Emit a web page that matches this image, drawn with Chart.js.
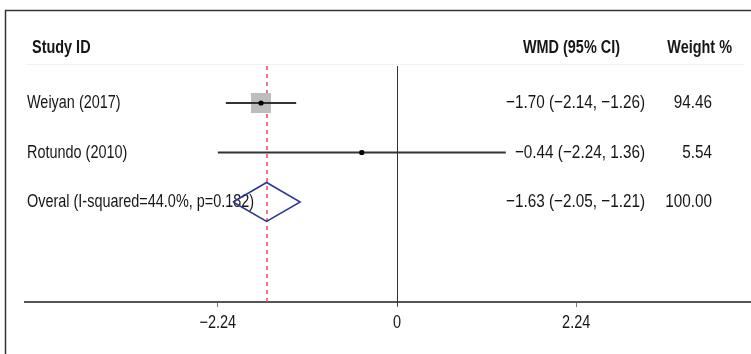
<!DOCTYPE html>
<html>
<head>
<meta charset="utf-8">
<script src="https://cdn.jsdelivr.net/npm/chart.js@4/dist/chart.umd.min.js"></script>
<style>
  html, body { margin: 0; padding: 0; background: #ffffff; }
  #wrap { width: 751px; height: 354px; }
</style>
</head>
<body>
<div id="wrap"><canvas id="forest" width="751" height="354"></canvas></div>
<script>
// Study rows of the forest plot
const studies = ['Weiyan (2017)', 'Rotundo (2010)'];
const estimates = [-1.70, -0.44];
const lowers = [-2.14, -2.24];
const uppers = [-1.26, 1.36];
const weights = [94.46, 5.54];

// Pooled estimate
const overallLabel = 'Overal (I-squared=44.0%, p=0.182)';
const overallEstimate = -1.63;
const overallLower = -2.05;
const overallUpper = -1.21;
const overallWeight = 100.00;

// Axis ticks
const tickValues = [-2.24, 0, 2.24];
const tickLabels = ['\u22122.24', '0', '2.24'];

const headers = { study: 'Study ID', effect: 'WMD (95% CI)', weight: 'Weight %' };

const FONT = '"Liberation Sans", Arial, sans-serif';
const TEXT = '#161616';
const NARROW_LABEL = 0.76;  // condensed look for text
const NARROW_NUM = 0.805;   // condensed look for figures

function fmt(v) {
  return (v < 0 ? '\u2212' : '') + Math.abs(v).toFixed(2);
}
function ciText(e, lo, hi) {
  return fmt(e) + ' (' + fmt(lo) + ', ' + fmt(hi) + ')';
}

// Draws horizontally condensed text
function drawText(ctx, text, x, y, align, font, squeeze) {
  ctx.save();
  ctx.font = font;
  const w = ctx.measureText(text).width * squeeze;
  const left = align === 'right' ? x - w : align === 'center' ? x - w / 2 : x;
  ctx.translate(left, y);
  ctx.scale(squeeze, 1);
  ctx.textAlign = 'left';
  ctx.textBaseline = 'middle';
  ctx.fillStyle = TEXT;
  ctx.fillText(text, 0, 0);
  ctx.restore();
}

const overallRow = studies.length;
const maxWeight = Math.max(...weights);
const diamondHalf = 0.394;

const datasets = [];
// confidence interval whiskers
studies.forEach((s, i) => {
  datasets.push({
    type: 'scatter', showLine: true,
    data: [{ x: lowers[i], y: i }, { x: uppers[i], y: i }],
    borderColor: '#333333', borderWidth: 2, pointRadius: 0, order: 3
  });
});
// weight boxes
datasets.push({
  type: 'scatter',
  data: studies.map((s, i) => ({ x: estimates[i], y: i })),
  pointStyle: 'rect',
  pointRadius: weights.map(w => 14.14 * Math.sqrt(w / maxWeight)),
  backgroundColor: '#bdbdbd', borderWidth: 0, order: 4
});
// point estimates
datasets.push({
  type: 'scatter',
  data: studies.map((s, i) => ({ x: estimates[i], y: i })),
  pointStyle: 'circle', pointRadius: 2.6,
  backgroundColor: '#000000', borderWidth: 0, order: 1
});
// pooled diamond
datasets.push({
  type: 'scatter', showLine: true,
  data: [
    { x: overallLower, y: overallRow },
    { x: overallEstimate, y: overallRow - diamondHalf },
    { x: overallUpper, y: overallRow },
    { x: overallEstimate, y: overallRow + diamondHalf },
    { x: overallLower, y: overallRow }
  ],
  borderColor: '#2c3791', borderWidth: 1.5, pointRadius: 0, tension: 0, order: 2
});

const forestDecor = {
  id: 'forestDecor',
  beforeDatasetsDraw(chart) {
    const { ctx, chartArea, scales } = chart;
    const xs = scales.x, ys = scales.y;
    ctx.save();
    // header separator
    ctx.strokeStyle = '#f1f1f1';
    ctx.lineWidth = 1;
    ctx.beginPath();
    ctx.moveTo(26, chartArea.top - 1.5);
    ctx.lineTo(745, chartArea.top - 1.5);
    ctx.stroke();

    // line of no effect
    const x0 = Math.round(xs.getPixelForValue(0)) + 0.5;
    ctx.strokeStyle = '#333333';
    ctx.lineWidth = 1;
    ctx.beginPath();
    ctx.moveTo(x0, chartArea.top);
    ctx.lineTo(x0, chartArea.bottom + 4);
    ctx.stroke();

    // pooled estimate reference
    const xr = Math.round(xs.getPixelForValue(overallEstimate));
    ctx.strokeStyle = '#e54b5c';
    ctx.lineWidth = 1.5;
    ctx.setLineDash([4, 4]);
    ctx.beginPath();
    ctx.moveTo(xr, chartArea.top);
    ctx.lineTo(xr, chartArea.bottom);
    ctx.stroke();
    ctx.setLineDash([]);
    ctx.restore();

    // headers
    const bold = 'bold 19px ' + FONT;
    drawText(ctx, headers.study, 32, 48, 'left', bold, NARROW_LABEL);
    drawText(ctx, headers.effect, 620, 48, 'right', bold, NARROW_LABEL);
    drawText(ctx, headers.weight, 732, 48, 'right', bold, NARROW_LABEL);

    // rows
    const reg = '19px ' + FONT;
    studies.forEach((s, i) => {
      const y = ys.getPixelForValue(i);
      drawText(ctx, s, 27, y, 'left', reg, NARROW_LABEL);
      drawText(ctx, ciText(estimates[i], lowers[i], uppers[i]), 645, y, 'right', reg, NARROW_NUM);
      drawText(ctx, weights[i].toFixed(2), 712, y, 'right', reg, NARROW_NUM);
    });
    const yo = ys.getPixelForValue(overallRow);
    drawText(ctx, overallLabel, 27, yo, 'left', reg, NARROW_LABEL);
    drawText(ctx, ciText(overallEstimate, overallLower, overallUpper), 645, yo, 'right', reg, NARROW_NUM);
    drawText(ctx, overallWeight.toFixed(2), 712, yo, 'right', reg, NARROW_NUM);
  },
  afterDraw(chart) {
    const { ctx, chartArea, scales } = chart;
    // tick labels placed by the x scale
    scales.x.ticks.forEach((t) => {
      const label = tickLabels[tickValues.indexOf(t.value)];
      drawText(ctx, label, scales.x.getPixelForValue(t.value), chartArea.bottom + 21,
        'center', '18px ' + FONT, NARROW_NUM);
    });
    // frame
    ctx.save();
    ctx.strokeStyle = '#333333';
    ctx.lineWidth = 1.5;
    ctx.beginPath();
    ctx.moveTo(5.5, 354);
    ctx.lineTo(5.5, 10.5);
    ctx.lineTo(751, 10.5);
    ctx.stroke();
    ctx.restore();
  }
};

new Chart(document.getElementById('forest'), {
  data: { datasets },
  options: {
    responsive: false,
    animation: false,
    devicePixelRatio: 1,
    layout: { autoPadding: false, padding: { top: 66, left: 25, right: 0, bottom: 0 } },
    plugins: { legend: { display: false }, tooltip: { enabled: false } },
    scales: {
      x: {
        type: 'linear',
        min: -4.65,
        max: 4.425,
        afterBuildTicks(scale) { scale.ticks = tickValues.map(v => ({ value: v })); },
        afterFit(scale) {
          scale.height = 52;
          scale.paddingLeft = 0;
          scale.paddingRight = 0;
        },
        ticks: { display: false },
        grid: { drawOnChartArea: false, drawTicks: true, tickLength: 5, color: '#777777', tickWidth: 1 },
        border: { display: true, color: '#555555', width: 2 }
      },
      y: {
        type: 'linear',
        display: false,
        reverse: true,
        min: -0.747,
        max: 4.02
      }
    }
  },
  plugins: [forestDecor]
});
</script>
</body>
</html>
